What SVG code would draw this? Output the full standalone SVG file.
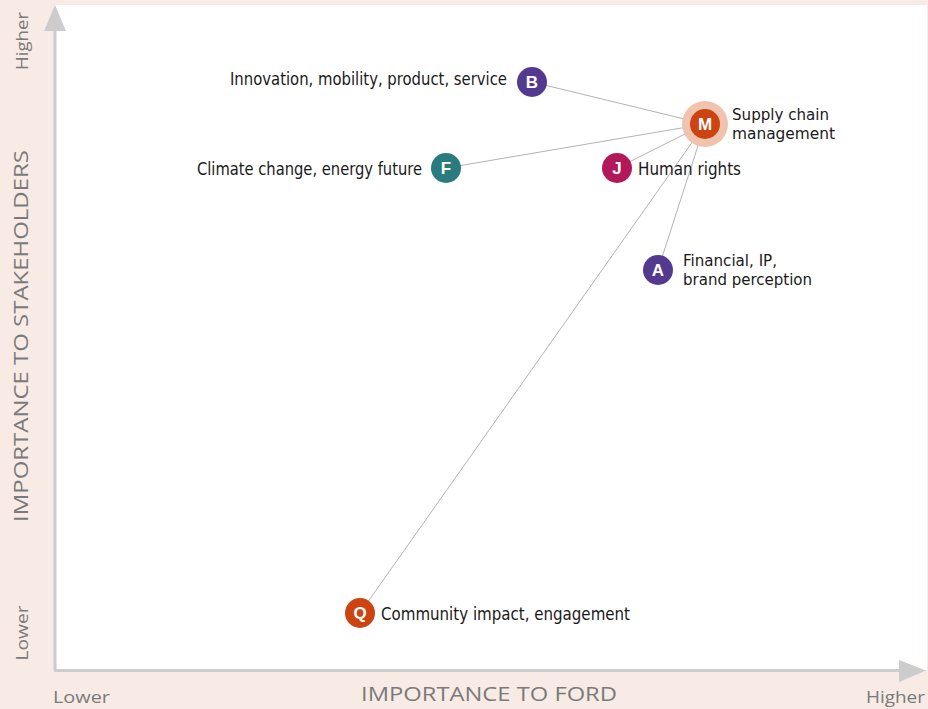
<svg xmlns="http://www.w3.org/2000/svg" width="928" height="709" viewBox="0 0 928 709">
<style>
.lbl{font-family:"DejaVu Sans Condensed","Liberation Sans",sans-serif;font-stretch:condensed;font-size:17px;fill:#1a1a1a}
.lbl2{font-family:"DejaVu Sans Condensed","Liberation Sans",sans-serif;font-stretch:condensed;font-size:16px;fill:#1a1a1a}
.ax{font-family:"Open Sans","Liberation Sans",sans-serif;fill:#7a7a7a}
.let{font-family:"Liberation Sans",Arial,sans-serif;font-size:17px;font-weight:bold;fill:#fff;text-anchor:middle}
.conn{stroke:#b3b3b3;stroke-width:1;fill:none}
.axis{stroke:#cccccc;stroke-width:3;fill:none}
</style>
<rect x="0" y="0" width="928" height="709" fill="#f8ebe6"/>
<rect x="55" y="5" width="872" height="665" fill="#ffffff"/>
<g id="axes">
<line class="axis" x1="55" y1="671" x2="55" y2="28"/>
<polygon points="55,5 44,31 66,31" fill="#cccccc"/>
<line class="axis" x1="54" y1="670.5" x2="902" y2="670.5"/>
<polygon points="926,670.5 899,660 899,682" fill="#cccccc"/>
<text class="ax" x="489" y="701" font-size="20" text-anchor="middle" textLength="256" lengthAdjust="spacingAndGlyphs">IMPORTANCE TO FORD</text>
<text class="ax" transform="translate(28,336) rotate(-90)" font-size="20" text-anchor="middle" textLength="372" lengthAdjust="spacingAndGlyphs">IMPORTANCE TO STAKEHOLDERS</text>
<text class="ax" x="53" y="703" font-size="17" textLength="57" lengthAdjust="spacingAndGlyphs">Lower</text>
<text class="ax" x="925" y="703" font-size="17" text-anchor="end" textLength="59" lengthAdjust="spacingAndGlyphs">Higher</text>
<text class="ax" transform="translate(28,41) rotate(-90)" font-size="17" text-anchor="middle" textLength="58" lengthAdjust="spacingAndGlyphs">Higher</text>
<text class="ax" transform="translate(28,633) rotate(-90)" font-size="17" text-anchor="middle" textLength="55" lengthAdjust="spacingAndGlyphs">Lower</text>
</g>
<g id="connectors">
<line class="conn" x1="705" y1="124" x2="532" y2="82"/>
<line class="conn" x1="705" y1="124" x2="446" y2="168"/>
<line class="conn" x1="705" y1="124" x2="617" y2="168"/>
<line class="conn" x1="705" y1="124" x2="658" y2="270"/>
<line class="conn" x1="705" y1="124" x2="360" y2="613"/>
</g>
<g id="node-M">
<circle cx="705" cy="124" r="23" fill="#efc3ae"/>
<circle cx="705" cy="124" r="15" fill="#cc4411"/>
<text class="let" x="705" y="130">M</text>
<text class="lbl2" x="732" y="120" textLength="97" lengthAdjust="spacingAndGlyphs">Supply chain</text>
<text class="lbl2" x="732" y="139" textLength="103" lengthAdjust="spacingAndGlyphs">management</text>
</g>
<g id="node-B">
<circle cx="532" cy="82" r="15" fill="#533a8e"/>
<text class="let" x="532" y="88">B</text>
<text class="lbl" x="230" y="85" textLength="277" lengthAdjust="spacingAndGlyphs">Innovation, mobility, product, service</text>
</g>
<g id="node-F">
<circle cx="446" cy="168" r="15" fill="#2a7b7e"/>
<text class="let" x="446" y="174">F</text>
<text class="lbl" x="197" y="175" textLength="225" lengthAdjust="spacingAndGlyphs">Climate change, energy future</text>
</g>
<g id="node-J">
<circle cx="617" cy="168" r="15" fill="#b1195b"/>
<text class="let" x="617" y="174">J</text>
<text class="lbl" x="638" y="175" textLength="103" lengthAdjust="spacingAndGlyphs">Human rights</text>
</g>
<g id="node-A">
<circle cx="658" cy="270" r="15" fill="#533a8e"/>
<text class="let" x="658" y="276">A</text>
<text class="lbl2" x="683" y="266" textLength="94" lengthAdjust="spacingAndGlyphs">Financial, IP,</text>
<text class="lbl2" x="683" y="285" textLength="129" lengthAdjust="spacingAndGlyphs">brand perception</text>
</g>
<g id="node-Q">
<circle cx="360" cy="613" r="15" fill="#cc4411"/>
<text class="let" x="360" y="619">Q</text>
<text class="lbl" x="381" y="620" textLength="249" lengthAdjust="spacingAndGlyphs">Community impact, engagement</text>
</g>
</svg>
